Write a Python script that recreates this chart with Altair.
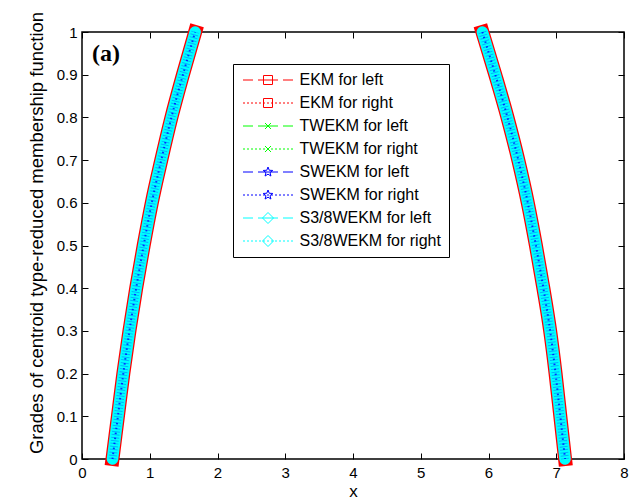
import math
import altair as alt
import pandas as pd

# ---------------- data ----------------
alpha_levels = [0.0, 0.1, 0.2, 0.3, 0.4, 0.5, 0.6, 0.7, 0.8, 0.9, 1.0]
left_x = [0.45, 0.53, 0.61, 0.70, 0.80, 0.91, 1.03, 1.17, 1.32, 1.49, 1.67]
right_x = [7.13, 7.06, 6.99, 6.91, 6.81, 6.70, 6.58, 6.44, 6.28, 6.10, 5.91]

series_names = [
    "EKM for left", "EKM for right",
    "TWEKM for left", "TWEKM for right",
    "SWEKM for left", "SWEKM for right",
    "S3/8WEKM for left", "S3/8WEKM for right",
]
series_colors = ["#ff0000", "#ff0000", "#00ff00", "#00ff00",
                 "#0000ff", "#0000ff", "#00ffff", "#00ffff"]
series_markers = ["square", "square", "x", "x", "star", "star", "diamond", "diamond"]
series_styles = ["dash", "dot"] * 4

x_ticks = [0, 1, 2, 3, 4, 5, 6, 7, 8]
y_ticks = [0, 0.1, 0.2, 0.3, 0.4, 0.5, 0.6, 0.7, 0.8, 0.9, 1]
panel_label = "(a)"
x_title = "x"
y_title = "Grades of centroid type-reduced membership function"

# ---------------- legend symbol paths (line sample + marker) ----------------
def marker_path(kind):
    if kind == "square":
        return "M-0.18,-0.18H0.18V0.18H-0.18Z"
    if kind == "x":
        return "M-0.12,-0.12L0.12,0.12M-0.12,0.12L0.12,-0.12"
    if kind == "diamond":
        return "M0,-0.22L0.22,0L0,0.22L-0.22,0Z"
    # five-pointed star
    pts = []
    for i in range(10):
        r = 0.2 if i % 2 == 0 else 0.085
        a = -math.pi / 2 + i * math.pi / 5
        pts.append(f"{r * math.cos(a):.3f},{r * math.sin(a):.3f}")
    return "M" + "L".join(pts) + "Z"


def line_path(style):
    if style == "dash":
        return "M-1,0H-0.6M-0.4,0H0.4M0.6,0H1"
    segs = []
    pos = -1.0
    while pos < 1.0:
        segs.append(f"M{pos:.3f},0H{min(pos + 0.08, 1.0):.3f}")
        pos += 0.16
    return "".join(segs)


symbol_paths = [line_path(s) + marker_path(m) for s, m in zip(series_styles, series_markers)]

# ---------------- tables ----------------
band_rows = []
for a, xl, xr in zip(alpha_levels, left_x, right_x):
    band_rows.append({"x": xl, "y": a, "side": "left"})
    band_rows.append({"x": xr, "y": a, "side": "right"})
band_df = pd.DataFrame(band_rows)
legend_df = pd.DataFrame({"series": series_names})
label_df = pd.DataFrame({"label": [panel_label]})

W, H = 542, 427
FONT = "Liberation Sans"

xscale = alt.Scale(domain=[0, 8], nice=False, zero=False)
yscale = alt.Scale(domain=[0, 1], nice=False, zero=False)

tick_common = dict(labels=False, domain=False, ticks=True, tickSize=6, tickColor="black",
                   tickWidth=1, grid=False, title=None)

main_x = alt.Axis(values=x_ticks, ticks=False, tickSize=0, domain=False, grid=False,
                  labelFont=FONT, labelFontSize=15, labelColor="black", labelPadding=6,
                  labelFlush=False, title=x_title, titleFont=FONT, titleFontSize=17,
                  titleFontWeight="normal", titleColor="black", titleY=37,
                  titleBaseline="alphabetic")
inside_bottom = alt.Axis(orient="top", offset=-H, values=x_ticks, **tick_common)
inside_top = alt.Axis(orient="bottom", offset=-H, values=x_ticks, **tick_common)

main_y = alt.Axis(values=y_ticks, format="~g", ticks=False, tickSize=0, domain=False, grid=False,
                  labelFont=FONT, labelFontSize=15, labelColor="black", labelPadding=5,
                  labelFlush=False, title=y_title, titleFont=FONT, titleFontSize=18.5,
                  titleFontWeight="normal", titleColor="black", titleX=-39.5, titleY=200.5,
                  titleBaseline="alphabetic")
inside_left = alt.Axis(orient="right", offset=-W, values=y_ticks, **tick_common)
inside_right = alt.Axis(orient="left", offset=-W, values=y_ticks, **tick_common)

legend_def = alt.Legend(
    title=None, orient="none", legendX=151, legendY=32,
    symbolSize=2500, symbolStrokeWidth=1, symbolOpacity=1, symbolOffset=1.5,
    labelFont=FONT, labelFontSize=16, labelColor="black", labelOffset=6, labelLimit=400,
    padding=8, rowPadding=7, clipHeight=16,
    strokeColor="black", fillColor="white", cornerRadius=0,
)

legend_layer = alt.Chart(legend_df).mark_point(filled=False, opacity=0).encode(
    color=alt.Color("series:N", scale=alt.Scale(domain=series_names, range=series_colors),
                    legend=legend_def),
    shape=alt.Shape("series:N", scale=alt.Scale(domain=series_names, range=symbol_paths),
                    legend=legend_def),
)

red_band = alt.Chart(band_df).mark_line(
    color="#ff0000", strokeWidth=14, interpolate="monotone", strokeCap="square"
).encode(
    x=alt.X("x:Q", scale=xscale, axis=main_x),
    y=alt.Y("y:Q", scale=yscale, axis=main_y),
    detail="side:N",
)

cyan_band = alt.Chart(band_df).mark_line(
    color="#00ffff", strokeWidth=11.5, interpolate="monotone", strokeCap="round"
).encode(
    x=alt.X("x:Q", scale=xscale, axis=inside_bottom),
    y=alt.Y("y:Q", scale=yscale, axis=inside_left),
    detail="side:N",
)

blue_dots = alt.Chart(band_df).mark_line(
    color="#0000ff", strokeWidth=8, interpolate="monotone", strokeDash=[1, 2],
    opacity=0.3
).encode(
    x=alt.X("x:Q", scale=xscale, axis=inside_top),
    y=alt.Y("y:Q", scale=yscale, axis=inside_right),
    detail="side:N",
)

blue_core = alt.Chart(band_df).mark_line(
    color="#0000ff", strokeWidth=2, interpolate="monotone", strokeDash=[1.5, 3.5],
    opacity=0.8
).encode(
    x=alt.X("x:Q", scale=xscale, axis=None),
    y=alt.Y("y:Q", scale=yscale, axis=None),
    detail="side:N",
)

label_layer = alt.Chart(label_df).mark_text(
    font="Liberation Serif", fontSize=24, fontWeight="bold", align="left",
    baseline="middle", color="black"
).encode(
    x=alt.value(10), y=alt.value(22), text="label:N"
)

chart = alt.layer(legend_layer, red_band, cyan_band, blue_dots, blue_core,
                  label_layer).resolve_axis(
    x="independent", y="independent"
).properties(
    width=W, height=H,
    autosize=alt.AutoSizeParams(type="none"),
    padding={"left": 82, "top": 32, "right": 8, "bottom": 41},
    background="white",
).configure_view(
    stroke="black", strokeWidth=1.5
)

chart.save("out.html", embed_options={"renderer": "svg", "actions": False})
